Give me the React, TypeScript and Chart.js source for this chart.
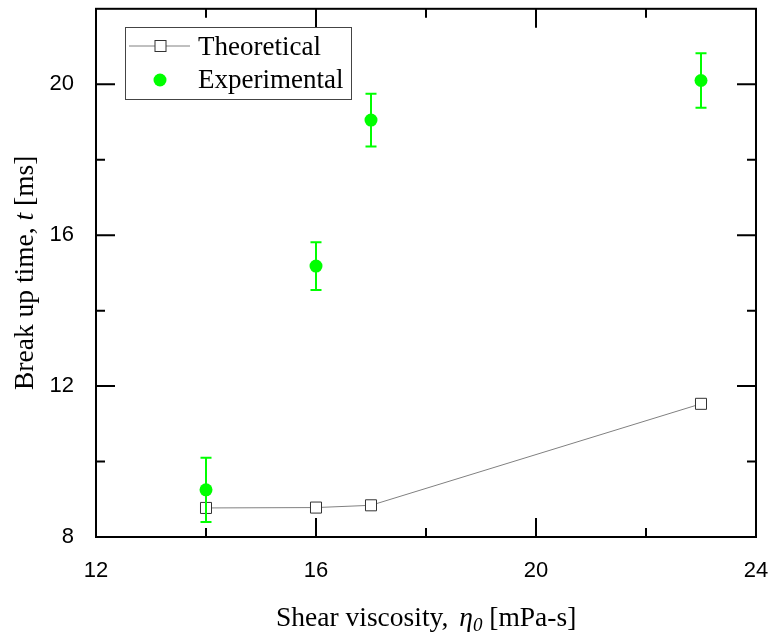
import React, { useEffect, useRef } from 'react';
import { Chart, registerables } from 'chart.js';
Chart.register(...registerables);

const viscosity = [14, 16, 17, 23];
const theoretical = [8.77, 8.78, 8.84, 11.53];
const experimental = [9.25, 15.18, 19.05, 20.1];
const expError = [0.85, 0.63, 0.7, 0.72];
const xMajor = [12, 16, 20, 24];
const xMinor = [14, 18, 22];
const yMajor = [8, 12, 16, 20];
const yMinor = [10, 14, 18];
const legendLabels = ['Theoretical', 'Experimental'];

const SERIF = '"Liberation Serif", "Times New Roman", serif';
const SANS = '"Liberation Sans", Arial, sans-serif';
const GREEN = '#00ff00';

type Part = { text: string; font: string; dy?: number; dx?: number };

function drawRich(ctx: CanvasRenderingContext2D, parts: Part[], x: number, y: number) {
  let cx = x;
  ctx.textAlign = 'left';
  ctx.textBaseline = 'alphabetic';
  for (const p of parts) {
    ctx.font = p.font;
    cx += p.dx || 0;
    ctx.fillText(p.text, cx, y + (p.dy || 0));
    cx += ctx.measureText(p.text).width;
  }
}

const decor = {
  id: 'decor',
  afterDatasetsDraw(chart: any) {
    const ctx = chart.ctx as CanvasRenderingContext2D;
    const xs = chart.scales.x;
    const ys = chart.scales.y;
    ctx.save();
    ctx.strokeStyle = GREEN;
    ctx.lineWidth = 2;
    viscosity.forEach((v, i) => {
      const px = xs.getPixelForValue(v);
      const top = ys.getPixelForValue(experimental[i] + expError[i]);
      const bot = ys.getPixelForValue(experimental[i] - expError[i]);
      ctx.beginPath();
      ctx.moveTo(px, top);
      ctx.lineTo(px, bot);
      ctx.moveTo(px - 5.5, top);
      ctx.lineTo(px + 5.5, top);
      ctx.moveTo(px - 5.5, bot);
      ctx.lineTo(px + 5.5, bot);
      ctx.stroke();
    });
    ctx.restore();
  },
  afterDraw(chart: any) {
    const ctx = chart.ctx as CanvasRenderingContext2D;
    const { left, right, top, bottom } = chart.chartArea;
    const xs = chart.scales.x;
    const ys = chart.scales.y;
    ctx.save();
    ctx.strokeStyle = '#000';
    ctx.lineWidth = 2;
    ctx.strokeRect(left, top, right - left, bottom - top);
    const tick = (vals: number[], len: number) => {
      ctx.beginPath();
      for (const v of vals) {
        const px = xs.getPixelForValue(v);
        ctx.moveTo(px, bottom);
        ctx.lineTo(px, bottom - len);
        ctx.moveTo(px, top);
        ctx.lineTo(px, top + len);
      }
      ctx.stroke();
    };
    const ytick = (vals: number[], len: number) => {
      ctx.beginPath();
      for (const v of vals) {
        const py = ys.getPixelForValue(v);
        ctx.moveTo(left, py);
        ctx.lineTo(left + len, py);
        ctx.moveTo(right, py);
        ctx.lineTo(right - len, py);
      }
      ctx.stroke();
    };
    tick(xMajor, 19);
    tick(xMinor, 9);
    ytick(yMajor, 19);
    ytick(yMinor, 9);

    // Legend
    ctx.fillStyle = '#fff';
    ctx.fillRect(125, 27, 226, 72);
    ctx.strokeStyle = '#444';
    ctx.lineWidth = 1;
    ctx.strokeRect(125.5, 27.5, 226, 72);
    ctx.strokeStyle = '#808080';
    ctx.beginPath();
    ctx.moveTo(129, 46);
    ctx.lineTo(190, 46);
    ctx.stroke();
    ctx.fillStyle = '#fff';
    ctx.fillRect(155, 40.5, 11, 11);
    ctx.strokeStyle = '#333';
    ctx.strokeRect(155, 40.5, 11, 11);
    ctx.fillStyle = GREEN;
    ctx.beginPath();
    ctx.arc(160, 80, 6.5, 0, Math.PI * 2);
    ctx.fill();
    ctx.fillStyle = '#000';
    ctx.font = `27px ${SERIF}`;
    ctx.textAlign = 'left';
    ctx.textBaseline = 'alphabetic';
    ctx.fillText(legendLabels[0], 198, 55);
    ctx.fillText(legendLabels[1], 198, 88);

    // Axis titles
    drawRich(
      ctx,
      [
        { text: 'Shear viscosity, ', font: `27.5px ${SERIF}` },
        { text: 'η', font: `italic 27.5px ${SERIF}`, dx: 4 },
        { text: '0', font: `italic 19px ${SERIF}`, dy: 5 },
        { text: ' [mPa-s]', font: `27.5px ${SERIF}` },
      ],
      276,
      626
    );
    ctx.save();
    ctx.translate(33, 390);
    ctx.rotate(-Math.PI / 2);
    drawRich(
      ctx,
      [
        { text: 'Break up time, ', font: `27.5px ${SERIF}` },
        { text: 't', font: `italic 27.5px ${SERIF}` },
        { text: ' [ms]', font: `27.5px ${SERIF}` },
      ],
      0,
      0
    );
    ctx.restore();
    ctx.restore();
  },
};

const zeroPad = (s: any) => {
  s.paddingTop = 0;
  s.paddingBottom = 0;
  s.paddingLeft = 0;
  s.paddingRight = 0;
};

export default function App() {
  const ref = useRef<HTMLCanvasElement>(null);
  useEffect(() => {
    document.body.style.margin = '0';
    const canvas = ref.current!;
    const chart = new Chart(canvas, {
      type: 'scatter',
      data: {
        datasets: [
          {
            label: legendLabels[0],
            data: viscosity.map((x, i) => ({ x, y: theoretical[i] })),
            showLine: true,
            borderColor: '#808080',
            borderWidth: 1,
            pointStyle: 'rect',
            pointRadius: 7.8,
            pointBackgroundColor: '#fff',
            pointBorderColor: '#333',
            pointBorderWidth: 1,
          },
          {
            label: legendLabels[1],
            data: viscosity.map((x, i) => ({ x, y: experimental[i] })),
            showLine: false,
            pointStyle: 'circle',
            pointRadius: 6.5,
            pointBackgroundColor: GREEN,
            pointBorderColor: GREEN,
            pointBorderWidth: 0,
          },
        ],
      },
      options: {
        animation: false,
        responsive: false,
        maintainAspectRatio: false,
        layout: { padding: { top: 6, right: 18, left: 0, bottom: 0 } },
        plugins: { legend: { display: false }, tooltip: { enabled: false } },
        scales: {
          x: {
            type: 'linear',
            min: 12,
            max: 24,
            afterBuildTicks: (s: any) => {
              s.ticks = xMajor.map((v) => ({ value: v }));
            },
            afterFit: (s: any) => {
              s.height = 102;
              zeroPad(s);
            },
            grid: { display: false, drawTicks: false },
            border: { display: false },
            ticks: { color: '#000', font: { family: SANS, size: 22 }, padding: 21, maxRotation: 0 },
          },
          y: {
            type: 'linear',
            min: 8,
            max: 22,
            afterBuildTicks: (s: any) => {
              s.ticks = yMajor.map((v) => ({ value: v }));
            },
            afterFit: (s: any) => {
              s.width = 96;
              zeroPad(s);
            },
            grid: { display: false, drawTicks: false },
            border: { display: false },
            ticks: { color: '#000', font: { family: SANS, size: 22 }, padding: 22 },
          },
        },
      },
      plugins: [decor],
    } as any);
    return () => chart.destroy();
  }, []);
  return <canvas ref={ref} width={774} height={639} style={{ display: 'block' }} />;
}
